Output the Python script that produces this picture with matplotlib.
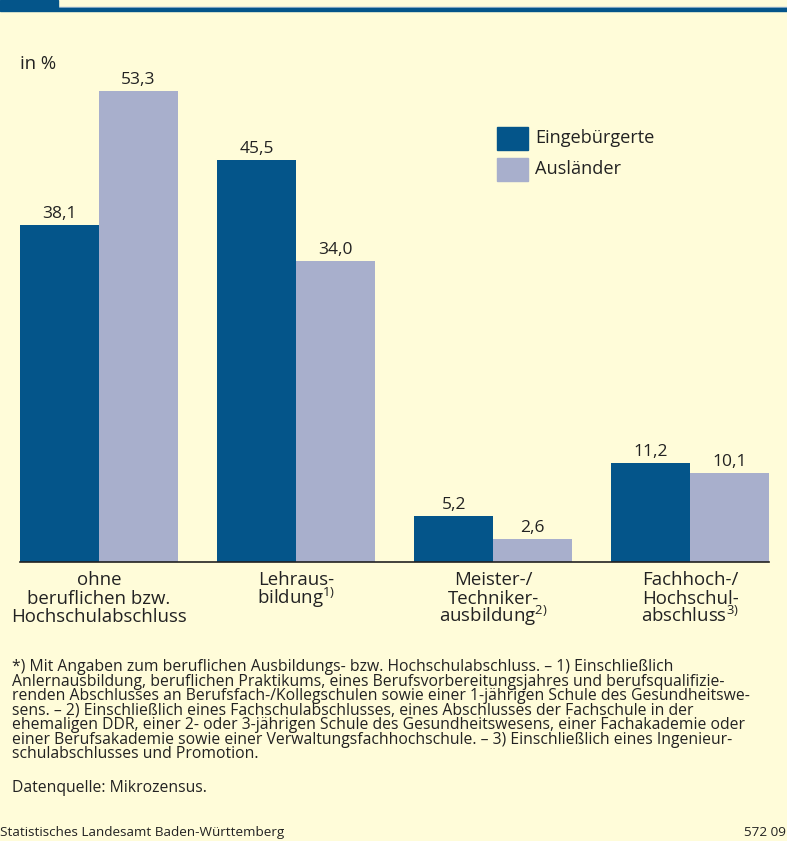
import matplotlib.pyplot as plt
import matplotlib.transforms as mtransforms
from matplotlib.patches import Rectangle
import numpy as np

plt.rcParams['font.family'] = ['Open Sans', 'DejaVu Sans']
plt.rcParams['mathtext.fontset'] = 'custom'
plt.rcParams['mathtext.rm'] = 'Open Sans'
plt.rcParams['mathtext.it'] = 'Open Sans'

# data
categories = [
    ["ohne", "beruflichen bzw.", "Hochschulabschluss"],
    ["Lehraus-", "bildung$^{1)}$"],
    ["Meister-/", "Techniker-", "ausbildung$^{2)}$"],
    ["Fachhoch-/", "Hochschul-", "abschluss$^{3)}$"],
]
eingebuergerte = [38.1, 45.5, 5.2, 11.2]
auslaender = [53.3, 34.0, 2.6, 10.1]
series_names = ["Eingebürgerte", "Ausländer"]

footnotes = [
    "*) Mit Angaben zum beruflichen Ausbildungs- bzw. Hochschulabschluss. – 1) Einschließlich",
    "Anlernausbildung, beruflichen Praktikums, eines Berufsvorbereitungsjahres und berufsqualifizie-",
    "renden Abschlusses an Berufsfach-/Kollegschulen sowie einer 1-jährigen Schule des Gesundheitswe-",
    "sens. – 2) Einschließlich eines Fachschulabschlusses, eines Abschlusses der Fachschule in der",
    "ehemaligen DDR, einer 2- oder 3-jährigen Schule des Gesundheitswesens, einer Fachakademie oder",
    "einer Berufsakademie sowie einer Verwaltungsfachhochschule. – 3) Einschließlich eines Ingenieur-",
    "schulabschlusses und Promotion.",
]
source = "Datenquelle: Mikrozensus."
footer_left = "Statistisches Landesamt Baden-Württemberg"
footer_right = "572 09"

bg = '#FFFCD9'
dark = '#04558A'
light = '#A8AFCC'
txt = '#222222'

W, H = 787, 841
fig = plt.figure(figsize=(W / 100, H / 100), dpi=100, facecolor=bg)

def fy(px):
    # pixel row from top -> figure fraction
    return 1 - px / H

# top band
fig.patches.append(Rectangle((0, fy(8)), 1, 1 / H, transform=fig.transFigure,
                             color='#9DB8CF', zorder=4))
fig.patches.append(Rectangle((0, fy(11)), 1, 3 / H, transform=fig.transFigure,
                             color=dark, zorder=5))
fig.patches.append(Rectangle((0, fy(9)), 58 / W, 9 / H, transform=fig.transFigure,
                             color=dark, zorder=5))

# axes: baseline at y=562 px, bars from x=20 to 769 px
ax = fig.add_axes([20 / W, 1 - 562 / H, 749 / W, (562 - 60) / H])
ax.set_facecolor(bg)
ax.set_xlim(-0.4, 3.4)
ax.set_ylim(0, 502 / 8.84)

x = np.arange(len(categories))
w = 0.4
b1 = ax.bar(x - w / 2, eingebuergerte, w, color=dark, label=series_names[0])
b2 = ax.bar(x + w / 2, auslaender, w, color=light, label=series_names[1])

for bars, vals in ((b1, eingebuergerte), (b2, auslaender)):
    for r, v in zip(bars, vals):
        ax.annotate(f"{v:.1f}".replace('.', ','),
                    (r.get_x() + r.get_width() / 2, v),
                    xytext=(0, 5), textcoords='offset points',
                    ha='center', va='baseline', fontsize=12.5, color=txt)

for s in ['top', 'right', 'left']:
    ax.spines[s].set_visible(False)
ax.spines['bottom'].set_color('#222222')
ax.spines['bottom'].set_linewidth(1.2)
ax.set_xticks([])
ax.set_yticks([])

# category labels
trans = mtransforms.blended_transform_factory(ax.transData, fig.transFigure)
baselines = [585, 603.5, 622]
for i, lines in enumerate(categories):
    for j, line in enumerate(lines):
        ax.text(x[i], fy(baselines[j]), line, transform=trans, ha='center',
                va='baseline', fontsize=13.4, color=txt)

fig.text(20 / W, fy(69), "in %", fontsize=13.3, color=txt, va='baseline')

# legend
for k, (name, col) in enumerate(zip(series_names, [dark, light])):
    top = 127 + k * 31
    fig.patches.append(Rectangle((497 / W, fy(top + 23)), 31 / W, 23 / H,
                                 transform=fig.transFigure, color=col))
    fig.text(535 / W, fy(top + 16), name, fontsize=13.1, color=txt, va='baseline')

# footnotes
for k, line in enumerate(footnotes):
    fig.text(12 / W, fy(671 + k * 14.5), line, fontsize=11.3, color=txt, va='baseline')
fig.text(12 / W, fy(792), source, fontsize=11.3, color=txt, va='baseline')

fig.text(0, fy(836), footer_left, fontsize=9.7, color=txt, va='baseline')
fig.text(1 - 1 / W, fy(836), footer_right, fontsize=9.7, color=txt, va='baseline', ha='right')

fig.savefig('out.png', dpi=100, facecolor=bg)
